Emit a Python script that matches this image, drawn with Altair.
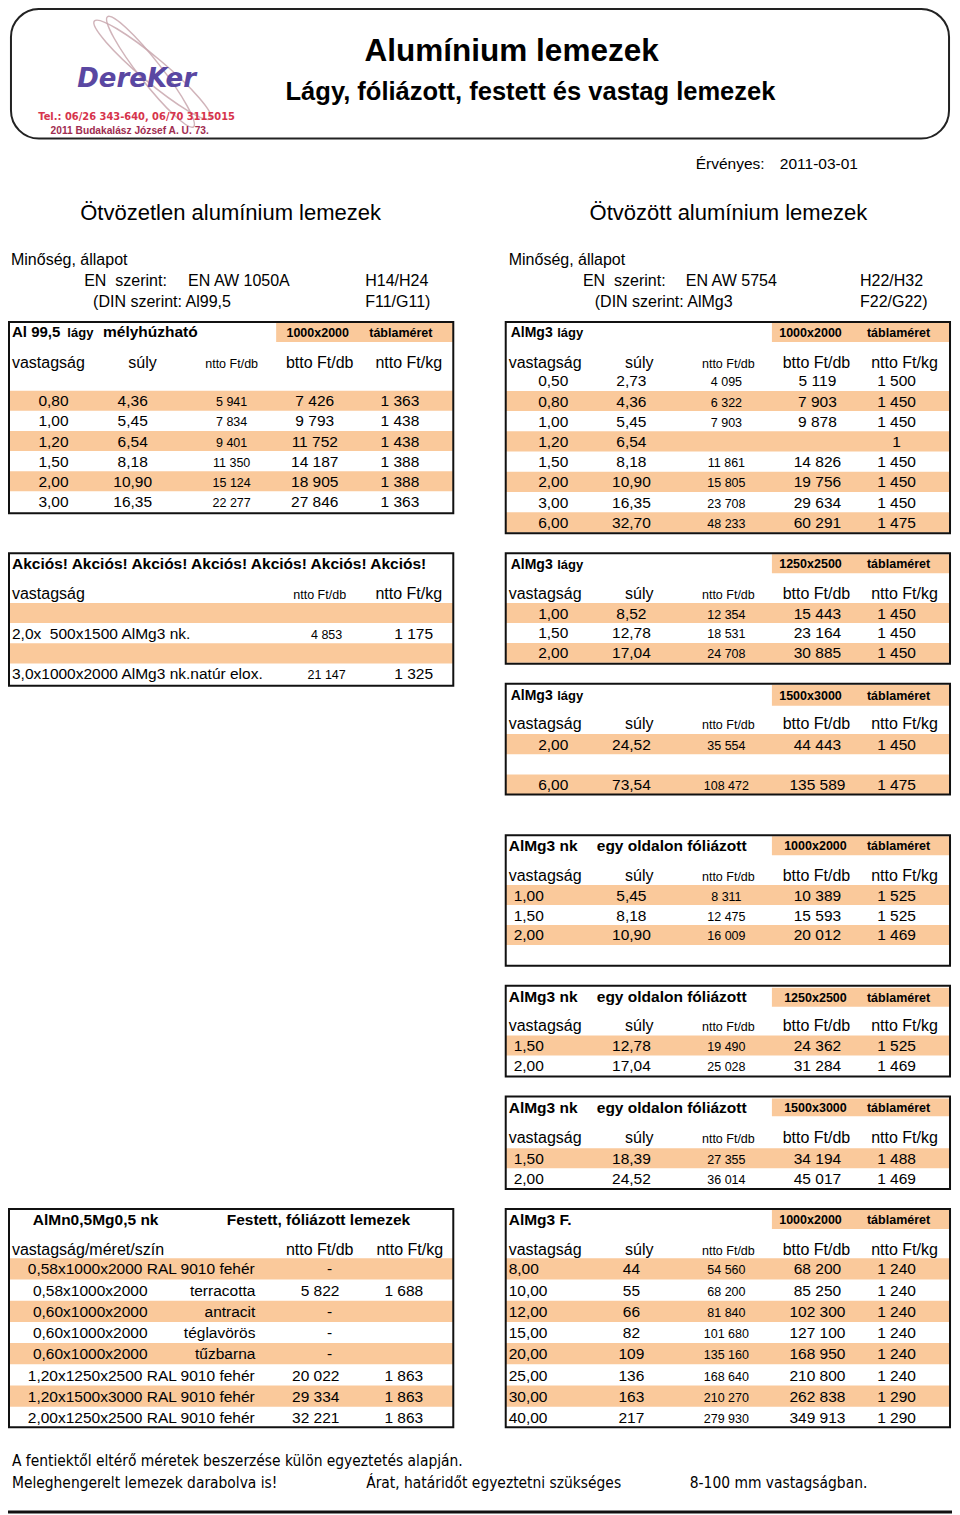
import altair as alt
import pandas as pd

# ---------------- data ----------------
title = "Alumínium lemezek"
subtitle = "Lágy, fóliázott, festett és vastag lemezek"
logo_name = "DereKer"
logo_tel = "Tel.: 06/26 343-640, 06/70 3115015"
logo_addr = "2011 Budakalász József A. U. 73."
valid_label = "Érvényes:"
valid_date = "2011-03-01"
sec_left = "Ötvözetlen alumínium lemezek"
sec_right = "Ötvözött alumínium lemezek"

spec_left = ["Minőség, állapot", "EN\u00a0 szerint:", "EN AW 1050A", "H14/H24", "(DIN szerint: Al99,5", "F11/G11)"]
spec_right = ["Minőség, állapot", "EN\u00a0 szerint:", "EN AW 5754", "H22/H32", "(DIN szerint: AlMg3", "F22/G22)"]

cols5 = ["vastagság", "súly", "ntto Ft/db", "btto Ft/db", "ntto Ft/kg"]

# Al 99,5 lágy mélyhúzható, 1000x2000
al_vast = ["0,80", "1,00", "1,20", "1,50", "2,00", "3,00"]
al_suly = ["4,36", "5,45", "6,54", "8,18", "10,90", "16,35"]
al_ntto_db = ["5 941", "7 834", "9 401", "11 350", "15 124", "22 277"]
al_btto_db = ["7 426", "9 793", "11 752", "14 187", "18 905", "27 846"]
al_ntto_kg = ["1 363", "1 438", "1 438", "1 388", "1 388", "1 363"]

# AlMg3 lágy, 1000x2000
mg1_vast = ["0,50", "0,80", "1,00", "1,20", "1,50", "2,00", "3,00", "6,00"]
mg1_suly = ["2,73", "4,36", "5,45", "6,54", "8,18", "10,90", "16,35", "32,70"]
mg1_ntto_db = ["4 095", "6 322", "7 903", "", "11 861", "15 805", "23 708", "48 233"]
mg1_btto_db = ["5 119", "7 903", "9 878", "", "14 826", "19 756", "29 634", "60 291"]
mg1_ntto_kg = ["1 500", "1 450", "1 450", "1", "1 450", "1 450", "1 450", "1 475"]

# AlMg3 lágy, 1250x2500
mg2_vast = ["1,00", "1,50", "2,00"]
mg2_suly = ["8,52", "12,78", "17,04"]
mg2_ntto_db = ["12 354", "18 531", "24 708"]
mg2_btto_db = ["15 443", "23 164", "30 885"]
mg2_ntto_kg = ["1 450", "1 450", "1 450"]

# AlMg3 lágy, 1500x3000 (middle row empty)
mg3_vast = ["2,00", "", "6,00"]
mg3_suly = ["24,52", "", "73,54"]
mg3_ntto_db = ["35 554", "", "108 472"]
mg3_btto_db = ["44 443", "", "135 589"]
mg3_ntto_kg = ["1 450", "", "1 475"]

# AlMg3 nk egy oldalon fóliázott, 1000x2000
nk1_vast = ["1,00", "1,50", "2,00"]
nk1_suly = ["5,45", "8,18", "10,90"]
nk1_ntto_db = ["8 311", "12 475", "16 009"]
nk1_btto_db = ["10 389", "15 593", "20 012"]
nk1_ntto_kg = ["1 525", "1 525", "1 469"]

# AlMg3 nk egy oldalon fóliázott, 1250x2500
nk2_vast = ["1,50", "2,00"]
nk2_suly = ["12,78", "17,04"]
nk2_ntto_db = ["19 490", "25 028"]
nk2_btto_db = ["24 362", "31 284"]
nk2_ntto_kg = ["1 525", "1 469"]

# AlMg3 nk egy oldalon fóliázott, 1500x3000
nk3_vast = ["1,50", "2,00"]
nk3_suly = ["18,39", "24,52"]
nk3_ntto_db = ["27 355", "36 014"]
nk3_btto_db = ["34 194", "45 017"]
nk3_ntto_kg = ["1 488", "1 469"]

# AlMg3 F., 1000x2000
f_vast = ["8,00", "10,00", "12,00", "15,00", "20,00", "25,00", "30,00", "40,00"]
f_suly = ["44", "55", "66", "82", "109", "136", "163", "217"]
f_ntto_db = ["54 560", "68 200", "81 840", "101 680", "135 160", "168 640", "210 270", "279 930"]
f_btto_db = ["68 200", "85 250", "102 300", "127 100", "168 950", "210 800", "262 838", "349 913"]
f_ntto_kg = ["1 240", "1 240", "1 240", "1 240", "1 240", "1 240", "1 290", "1 290"]

# Akciós
akc_title = "Akciós! Akciós! Akciós! Akciós! Akciós! Akciós! Akciós!"
akc_desc = ["", "2,0x\u00a0 500x1500 AlMg3 nk.", "", "3,0x1000x2000 AlMg3 nk.natúr elox."]
akc_ntto_db = ["", "4 853", "", "21 147"]
akc_ntto_kg = ["", "1 175", "", "1 325"]

# Festett, fóliázott lemezek
fest_title = ["AlMn0,5Mg0,5 nk", "Festett, fóliázott lemezek"]
fest_meret = ["0,58x1000x2000", "0,58x1000x2000", "0,60x1000x2000", "0,60x1000x2000",
              "0,60x1000x2000", "1,20x1250x2500", "1,20x1500x3000", "2,00x1250x2500"]
fest_szin = ["RAL 9010 fehér", "terracotta", "antracit", "téglavörös", "tűzbarna",
             "RAL 9010 fehér", "RAL 9010 fehér", "RAL 9010 fehér"]
fest_ntto_db = ["-", "5 822", "-", "-", "-", "20 022", "29 334", "32 221"]
fest_ntto_kg = ["", "1 688", "", "", "", "1 863", "1 863", "1 863"]

footer1 = "A fentiektől eltérő méretek beszerzése külön egyeztetés alapján."
footer2 = ["Meleghengerelt lemezek darabolva is!", "Árat, határidőt egyeztetni szükséges", "8-100 mm vastagságban."]

# ---------------- styles / layout ----------------
SANS = "Liberation Sans, Arial, Helvetica, sans-serif"
NARROW = "Liberation Sans Narrow, Arial Narrow, DejaVu Sans Condensed, Liberation Sans, sans-serif"
LOGO = "DejaVu Sans, Verdana, sans-serif"
ORANGE = "#FAC99B"

texts, rects, boxes = [], [], []


def base(yc, s):
    return yc + 0.36 * s


def T(t, x, yb, s=16, w="normal", a="left", f=SANS, c="black", st="normal"):
    if t == "":
        return
    texts.append(dict(t=t, x=x, y=yb, s=s, w=w, a=a, f=f, c=c, st=st))


def R(x, x2, y, y2, c=ORANGE):
    rects.append(dict(x=x, x2=x2, y=y, y2=y2, c=c))


def B(x, x2, y, y2):
    boxes.append(dict(x=x, x2=x2, y=y, y2=y2))


R_CH = [508, 640, 730, 819, 908]
R_VAL = [553, 632, 728, 820, 900]
L_CH = [6, 138, 228, 317, 407]
L_VAL = [48, 128, 228, 312, 398]
VAL_SIZES = [15.5, 15.5, 12.5, 15.5, 15.5]
CH_SIZES = [16, 16, 12.5, 16, 16]


def data_table(box, band, titles, size_lbl, lbl_x, hy, chy, ch_x, val_x, ry0, step, bands, cols, vast_left=None):
    x0, x1, y0, y1 = box
    B(x0, x1, y0, y1)
    R(band[0], x1, band[1], band[2])
    hb = base(hy, 15.5)
    for t, x, s in titles:
        T(t, x, hb, s, "bold")
    T(size_lbl, lbl_x[0], hb - 0.5, 12.5, "bold", "center")
    T("táblaméret", lbl_x[1], hb - 0.5, 12.5, "bold", "center")
    cb = base(chy, 16)
    for j, name in enumerate(cols5):
        T(name, ch_x[j], cb, CH_SIZES[j], a="left" if j == 0 else "center")
    for i in range(len(cols[0])):
        ry = ry0 + i * step
        if i in bands:
            R(x0, x1, ry - step / 2, ry + step / 2)
        rb = base(ry, 15.5)
        for j, col in enumerate(cols):
            if j == 0 and vast_left is not None:
                T(col[i], vast_left, rb, VAL_SIZES[j], a="left")
            else:
                T(col[i], val_x[j], rb, VAL_SIZES[j], a="center")


# header
T(title, 511, base(44, 31.5), 31.5, "bold", "center")
T(subtitle, 530, base(85, 25.5), 25.5, "bold", "center")
T(logo_name, 132, base(72, 26), 26, "bold", "center", LOGO, "#5a47a2", "italic")
T(logo_tel, 132, base(110, 11), 11, "bold", "center", NARROW, "#d6344c")
T(logo_addr, 125, base(125, 10.2), 10.2, "bold", "center", SANS, "#a02c50")
T(valid_label, 697, base(158, 15.5), 15.5)
T(valid_date, 782, base(158, 15.5), 15.5)
T(sec_left, 227, base(207, 22), 22, a="center")
T(sec_right, 730, base(207, 22), 22, a="center")

for spec, xs_ in ((spec_left, [5, 79, 184, 363, 88, 363]), (spec_right, [508, 583, 687, 863, 595, 863])):
    ys_ = [254, 275, 275, 275, 296, 296]
    for t, x, y in zip(spec, xs_, ys_):
        T(t, x, base(y, 16), 16)

# tables
data_table((3, 452, 317, 509), (273, 318, 337),
           [("Al 99,5", 6, 15), ("lágy", 62, 13), ("mélyhúzható", 98, 15.5)],
           "1000x2000", (315, 399), 327, 357, L_CH, L_VAL, 396, 20.2, [0, 2, 4],
           [al_vast, al_suly, al_ntto_db, al_btto_db, al_ntto_kg])
lagy_title = [("AlMg3", 510, 14), ("lágy", 557, 13)]
data_table((505, 954, 317, 529), (774, 318, 337), lagy_title,
           "1000x2000", (813, 902), 327, 357, R_CH, R_VAL, 376, 20.3, [1, 3, 5, 7],
           [mg1_vast, mg1_suly, mg1_ntto_db, mg1_btto_db, mg1_ntto_kg])
data_table((505, 954, 549, 660), (774, 550, 569), lagy_title,
           "1250x2500", (813, 902), 559, 589, R_CH, R_VAL, 609, 20.0, [0, 2],
           [mg2_vast, mg2_suly, mg2_ntto_db, mg2_btto_db, mg2_ntto_kg])
data_table((505, 954, 680, 791), (774, 681, 702), lagy_title,
           "1500x3000", (813, 902), 691, 720, R_CH, R_VAL, 740.5, 20.3, [0, 2],
           [mg3_vast, mg3_suly, mg3_ntto_db, mg3_btto_db, mg3_ntto_kg])
nk_title = [("AlMg3 nk", 508, 15.5), ("egy oldalon fóliázott", 597, 15.5)]
data_table((505, 954, 832, 963), (774, 833, 852), nk_title,
           "1000x2000", (818, 902), 842, 872, R_CH, R_VAL, 892, 20.0, [0, 2],
           [nk1_vast, nk1_suly, nk1_ntto_db, nk1_btto_db, nk1_ntto_kg], vast_left=513)
data_table((505, 954, 983, 1074), (774, 985, 1004), nk_title,
           "1250x2500", (818, 902), 994, 1023, R_CH, R_VAL, 1043, 20.0, [0],
           [nk2_vast, nk2_suly, nk2_ntto_db, nk2_btto_db, nk2_ntto_kg], vast_left=513)
data_table((505, 954, 1094, 1187), (774, 1096, 1114), nk_title,
           "1500x3000", (818, 902), 1105, 1135, R_CH, R_VAL, 1156, 20.0, [0],
           [nk3_vast, nk3_suly, nk3_ntto_db, nk3_btto_db, nk3_ntto_kg], vast_left=513)
data_table((505, 954, 1207, 1426), (774, 1208, 1227), [("AlMg3 F.", 508, 15.5)],
           "1000x2000", (813, 902), 1217, 1247, R_CH, R_VAL, 1267, 21.3, [0, 2, 4, 6],
           [f_vast, f_suly, f_ntto_db, f_btto_db, f_ntto_kg], vast_left=508)

# Akciós table
B(3, 452, 549, 682)
T(akc_title, 6, base(559, 15.5), 15.5, "bold")
T("vastagság", 6, base(589, 16), 16)
T("ntto Ft/db", 317, base(589, 16), 12.5, a="center")
T("ntto Ft/kg", 407, base(589, 16), 16, a="center")
for i in range(len(akc_desc)):
    ry = 609 + i * 20.3
    if i % 2 == 0:
        R(3, 452, ry - 10.15, ry + 10.15)
    rb = base(ry, 15.5)
    T(akc_desc[i], 6, rb, 15.5)
    T(akc_ntto_db[i], 324, rb, 12.5, a="center")
    T(akc_ntto_kg[i], 412, rb, 15.5, a="center")

# Festett table
B(3, 452, 1207, 1426)
T(fest_title[0], 27, base(1217, 15.5), 15.5, "bold")
T(fest_title[1], 223, base(1217, 15.5), 15.5, "bold")
T("vastagság/méret/szín", 6, base(1247, 16), 16)
T("ntto Ft/db", 317, base(1247, 16), 16, a="center")
T("ntto Ft/kg", 408, base(1247, 16), 16, a="center")
for i in range(len(fest_meret)):
    ry = 1267 + i * 21.3
    if i % 2 == 0:
        R(3, 452, ry - 10.65, ry + 10.65)
    rb = base(ry, 15.5)
    if fest_szin[i].startswith("RAL"):
        T(fest_meret[i] + " " + fest_szin[i], 22, rb, 15.5)
    else:
        T(fest_meret[i], 143, rb, 15.5, a="right")
        T(fest_szin[i], 252, rb, 15.5, a="right")
    if fest_ntto_db[i] == "-":
        T(fest_ntto_db[i], 327, rb, 15.5, a="center")
    else:
        T(fest_ntto_db[i], 337, rb, 15.5, a="right")
    T(fest_ntto_kg[i], 402, rb, 15.5, a="center")

# footer
T(footer1, 6, base(1459, 15.4), 15.4, f=NARROW)
for t, x in zip(footer2, [6, 364, 691]):
    T(t, x, base(1481, 15.4), 15.4, f=NARROW)

# ---------------- chart ----------------
xs = alt.Scale(domain=[2, 956], nice=False, zero=False)
ys = alt.Scale(domain=[2, 1514], nice=False, zero=False, reverse=True)
X = alt.X("x:Q", scale=xs, axis=None)
Y = alt.Y("y:Q", scale=ys, axis=None)

rect_df = pd.DataFrame(rects)
box_df = pd.DataFrame(boxes)
text_df = pd.DataFrame(texts)

# logo swoosh (two thin tilted ellipses), decorative
ELLIPSE = "M -1 0 A 1 0.16 0 1 1 1 0 A 1 0.16 0 1 1 -1 0 Z"
swoosh_df = pd.DataFrame([dict(x=148, y=64, s=23000, ang=40), dict(x=146, y=66, s=19500, ang=52)])

layers = []
layers.append(alt.Chart(rect_df).mark_rect().encode(
    x=X, x2="x2:Q", y=Y, y2="y2:Q", color=alt.Color("c:N", scale=None)))
layers.append(alt.Chart(box_df).mark_rect(fillOpacity=0, stroke="#111111", strokeWidth=2).encode(
    x=X, x2="x2:Q", y=Y, y2="y2:Q"))
layers.append(alt.Chart(pd.DataFrame([dict(x=5, x2=953, y=3, y2=133)])).mark_rect(
    fillOpacity=0, stroke="#222222", strokeWidth=2, cornerRadius=28).encode(
    x=X, x2="x2:Q", y=Y, y2="y2:Q"))
layers.append(alt.Chart(swoosh_df).mark_point(
    shape=ELLIPSE, filled=False, stroke="#c9a7ae", strokeWidth=1.5, opacity=0.85).encode(
    x=X, y=Y, size=alt.Size("s:Q", scale=None), angle=alt.Angle("ang:Q", scale=None)))
layers.append(alt.Chart(pd.DataFrame([dict(x=0, x2=956, y=1511)])).mark_rule(
    color="#111111", strokeWidth=3).encode(x=X, x2="x2:Q", y=Y))

groups = text_df.groupby(["a", "w", "f", "st"])
for (a, w, f, st), g in groups:
    layers.append(alt.Chart(g.reset_index(drop=True)).mark_text(
        align=a, baseline="alphabetic", fontWeight=w, font=f, fontStyle=st).encode(
        x=X, y=Y, text="t:N", size=alt.Size("s:Q", scale=None),
        color=alt.Color("c:N", scale=None)))

chart = alt.layer(*layers).properties(
    width=944, height=1507, padding=0, autosize=alt.AutoSizeParams(type="none"),
    background="white"
).configure_view(stroke=None)

chart.save("out.html", embed_options={"renderer": "svg", "actions": False})
